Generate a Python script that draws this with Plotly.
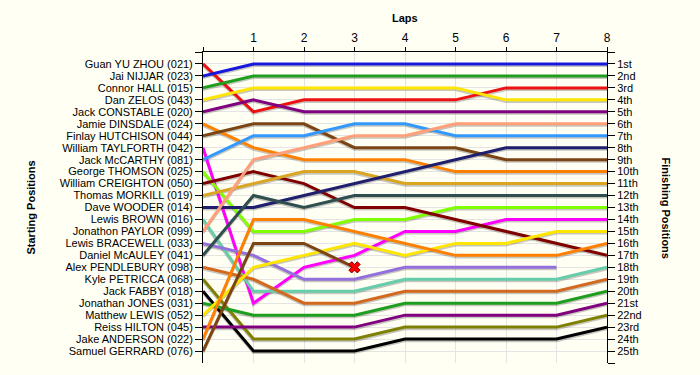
import plotly.graph_objects as go

laps = [0, 1, 2, 3, 4, 5, 6, 7, 8]

drivers = [
    "Guan YU ZHOU (021)", "Jai NIJJAR (023)", "Connor HALL (015)", "Dan ZELOS (043)",
    "Jack CONSTABLE (020)", "Jamie DINSDALE (024)", "Finlay HUTCHISON (044)",
    "William TAYLFORTH (042)", "Jack McCARTHY (081)", "George THOMSON (025)",
    "William CREIGHTON (050)", "Thomas MORKILL (019)", "Dave WOODER (014)",
    "Lewis BROWN (016)", "Jonathon PAYLOR (099)", "Lewis BRACEWELL (033)",
    "Daniel McAULEY (041)", "Alex PENDLEBURY (098)", "Kyle PETRICCA (068)",
    "Jack FABBY (018)", "Jonathan JONES (031)", "Matthew LEWIS (052)",
    "Reiss HILTON (045)", "Jake ANDERSON (022)", "Samuel GERRARD (076)",
]

# positions per lap (lap 0 = grid)
positions = [
    [1, 5, 4, 4, 4, 4, 3, 3, 3],
    [2, 1, 1, 1, 1, 1, 1, 1, 1],
    [3, 2, 2, 2, 2, 2, 2, 2, 2],
    [4, 3, 3, 3, 3, 3, 4, 4, 4],
    [5, 4, 5, 5, 5, 5, 5, 5, 5],
    [6, 8, 9, 9, 9, 10, 10, 10, 10],
    [7, 6, 6, 8, 8, 8, 9, 9, 9],
    [8, 21, 18, 17, 15, 15, 14, 14, 14],
    [9, 7, 7, 6, 6, 7, 7, 7, 7],
    [10, 15, 15, 14, 14, 13, 13, 13, 13],
    [11, 10, 11, 13, 13, 14, 15, 16, 17],
    [12, 11, 10, 10, 11, 11, 11, 11, 11],
    [13, 13, 12, 11, 10, 9, 8, 8, 8],
    [14, 20, 20, 20, 19, 19, 19, 19, 18],
    [15, 9, 8, 7, 7, 6, 6, 6, 6],
    [16, 17, 19, 19, 18, 18, 18, 18],
    [17, 12, 13, 12, 12, 12, 12, 12, 12],
    [18, 19, 21, 21, 20, 20, 20, 20, 19],
    [19, 24, 24, 24, 23, 23, 23, 23, 22],
    [20, 25, 25, 25, 24, 24, 24, 24, 23],
    [21, 22, 22, 22, 21, 21, 21, 21, 20],
    [22, 18, 17, 16, 17, 16, 16, 15, 15],
    [23, 23, 23, 23, 22, 22, 22, 22, 21],
    [24, 14, 14, 15, 16, 17, 17, 17, 16],
    [25, 16, 16, 18],
]

retired = ["Samuel GERRARD (076)"]

colors = [
    "#EE1111", "#1818DD", "#1E9E1E", "#FFE600", "#800080", "#FF8000", "#7B4513",
    "#FF00FF", "#3399FF", "#7FFF00", "#800000", "#DAA520", "#1F1F6E", "#66CDAA",
    "#FFA07A", "#9370DB", "#2F4F4F", "#D2691E", "#808000", "#000000", "#1E9E1E",
    "#FFE600", "#800080", "#FF8000", "#7B4513",
]

finish_labels = ["1st", "2nd", "3rd"] + [f"{i}th" for i in range(4, 21)] + ["21st", "22nd", "23rd", "24th", "25th"]

FONT = "Liberation Sans, Arial, sans-serif"
BG = "#FFFFF4"
SHADOW_DY = 0.13  # drop shadow offset in position units (~1.5 px)

fig = go.Figure()
# soft drop shadows
for name, pos in zip(drivers, positions):
    fig.add_trace(go.Scatter(
        x=laps[:len(pos)], y=[p + SHADOW_DY for p in pos], mode="lines",
        line=dict(color="rgba(0,0,0,0.22)", width=3), showlegend=False,
        hoverinfo="skip",
    ))
for name, pos, col in zip(drivers, positions, colors):
    fig.add_trace(go.Scatter(
        x=laps[:len(pos)], y=pos, mode="lines", name=name,
        line=dict(color=col, width=3), showlegend=False,
    ))
    if name in retired:
        fig.add_trace(go.Scatter(
            x=[laps[len(pos) - 1]], y=[pos[-1]], mode="markers",
            marker=dict(symbol="x", size=10, color="#FF0000",
                        line=dict(color="#8B0000", width=1)),
            showlegend=False,
        ))

# invisible trace for right axis
fig.add_trace(go.Scatter(x=[0], y=[1], yaxis="y2", mode="markers",
                         marker=dict(opacity=0), showlegend=False, hoverinfo="skip"))

n = len(drivers)
fig.update_layout(
    width=700, height=375,
    margin=dict(l=203, r=93, t=52, b=12, autoexpand=False),
    paper_bgcolor=BG, plot_bgcolor=BG,
    font=dict(family=FONT, size=11, color="#000000"),
    xaxis=dict(
        side="top", range=[0, 8], tickvals=laps, ticktext=[""] + [str(l) for l in laps[1:]],
        showline=True, linecolor="#000000", linewidth=1,
        ticks="outside", ticklen=4, tickcolor="#000000",
        showgrid=True, gridcolor="#E4E4E4", gridwidth=1, zeroline=False,
        tickfont=dict(size=12),
    ),
    yaxis=dict(
        range=[n + 1, 0], tickvals=list(range(0, n + 1)), ticktext=[""] + drivers,
        showline=True, linecolor="#000000", linewidth=1,
        ticks="outside", ticklen=7, tickcolor="#000000",
        showgrid=True, gridcolor="#E4E4E4", gridwidth=1, zeroline=False,
        tickfont=dict(size=11),
    ),
    yaxis2=dict(
        range=[n + 1, 0], overlaying="y", side="right", anchor="x",
        tickvals=list(range(0, n + 2)), ticktext=[""] + finish_labels + [""],
        showline=True, linecolor="#000000", linewidth=1,
        ticks="outside", ticklen=7, tickcolor="#000000",
        showgrid=False, zeroline=False, tickfont=dict(size=11),
    ),
    annotations=[
        dict(text="<b>Laps</b>", xref="paper", yref="paper", x=0.5, y=1,
             yshift=34, showarrow=False, font=dict(size=11), yanchor="middle"),
        dict(text="<b>Starting Positions</b>", xref="paper", yref="paper",
             x=0, xshift=-173, y=0.5, textangle=-90, showarrow=False,
             font=dict(size=11), xanchor="center"),
        dict(text="<b>Finishing Positions</b>", xref="paper", yref="paper",
             x=1, xshift=59, y=0.5, textangle=90, showarrow=False,
             font=dict(size=11), xanchor="center"),
    ],
)

fig.write_html(
    "out.html",
    config={"displayModeBar": False},
    post_script="document.body.style.margin='0';document.body.style.background='" + BG + "';",
)
